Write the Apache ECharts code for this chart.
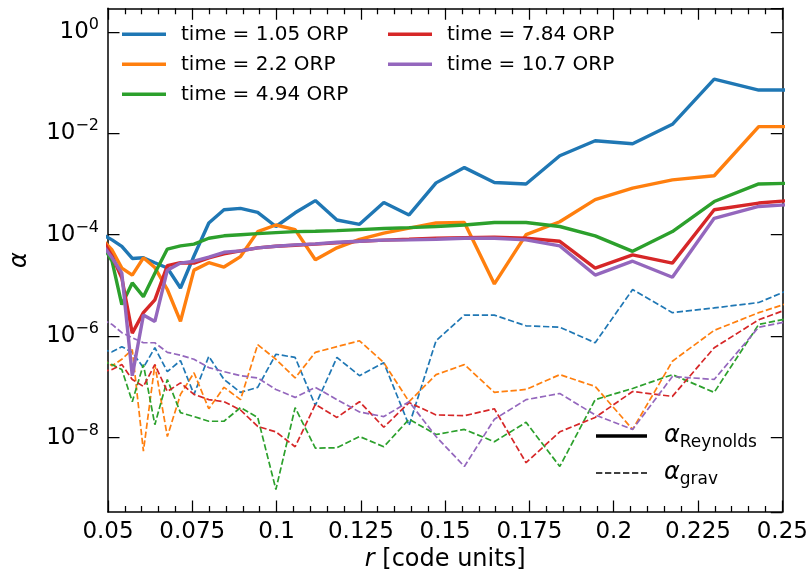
<!DOCTYPE html>
<html><head><meta charset="utf-8">
<script src="https://cdn.jsdelivr.net/npm/echarts@6/dist/echarts.min.js"></script>
<style>html,body{margin:0;padding:0;background:#fff}#c{width:811px;height:577px}</style>
</head><body><div id="c"></div>
<script>
// radius sample points (code units)
const radius = [0.0484, 0.0512, 0.0541, 0.0572, 0.0605, 0.0639, 0.0676, 0.0715, 0.0755, 0.0799, 0.0844, 0.0893, 0.0944, 0.0998, 0.1055, 0.1115, 0.1179, 0.1246, 0.1318, 0.1393, 0.1473, 0.1557, 0.1646, 0.1740, 0.1840, 0.1945, 0.2056, 0.2174, 0.2298, 0.2430, 0.2569];
const timeLabels = ['time = 1.05 ORP', 'time = 2.2 ORP', 'time = 4.94 ORP', 'time = 7.84 ORP', 'time = 10.7 ORP'];
const xTicks = [0.05, 0.075, 0.1, 0.125, 0.15, 0.175, 0.2, 0.225, 0.25];

// alpha_Reynolds (solid)
const reynolds_t105 = [1.0e-4, 7.9e-5, 5.9e-5, 3.4e-5, 3.5e-5, 2.8e-5, 2.2e-5, 8.9e-6, 3.8e-5, 1.7e-4, 3.1e-4, 3.3e-4, 2.75e-4, 1.45e-4, 2.7e-4, 4.7e-4, 1.95e-4, 1.6e-4, 4.3e-4, 2.45e-4, 1.05e-3, 2.1e-3, 1.07e-3, 1.0e-3, 3.6e-3, 7.1e-3, 6.2e-3, 1.5e-2, 1.17e-1, 7.1e-2, 7.1e-2];
const reynolds_t22 = [7.9e-5, 5.0e-5, 2.2e-5, 1.6e-5, 3.5e-5, 2.25e-5, 8.3e-6, 1.95e-6, 2.0e-5, 2.8e-5, 2.3e-5, 3.7e-5, 1.15e-4, 1.55e-4, 1.26e-4, 3.2e-5, 5.5e-5, 8.1e-5, 1.07e-4, 1.35e-4, 1.7e-4, 1.74e-4, 1.07e-5, 1.0e-4, 1.8e-4, 4.9e-4, 8.3e-4, 1.2e-3, 1.45e-3, 1.35e-2, 1.35e-2];
const reynolds_t494 = [6.3e-5, 3.0e-5, 4.2e-6, 1.12e-5, 6.0e-6, 1.74e-5, 5.2e-5, 6.0e-5, 6.5e-5, 8.5e-5, 9.5e-5, 1.0e-4, 1.05e-4, 1.1e-4, 1.15e-4, 1.17e-4, 1.2e-4, 1.26e-4, 1.32e-4, 1.38e-4, 1.45e-4, 1.55e-4, 1.74e-4, 1.74e-4, 1.45e-4, 9.5e-5, 4.7e-5, 1.15e-4, 4.5e-4, 1.0e-3, 1.05e-3];
const reynolds_t784 = [7.9e-5, 3.8e-5, 1.4e-5, 1.15e-6, 2.9e-6, 5.2e-6, 2.45e-5, 2.8e-5, 2.75e-5, 3.5e-5, 4.2e-5, 4.8e-5, 5.5e-5, 5.9e-5, 6.2e-5, 6.5e-5, 6.9e-5, 7.4e-5, 7.8e-5, 8.1e-5, 8.5e-5, 8.7e-5, 8.9e-5, 8.5e-5, 7.4e-5, 2.2e-5, 4.0e-5, 2.75e-5, 3.1e-4, 4.2e-4, 5.0e-4];
const reynolds_t107 = [6.3e-5, 3.5e-5, 1.74e-5, 1.66e-7, 2.6e-6, 1.95e-6, 2.0e-5, 2.75e-5, 3.0e-5, 3.6e-5, 4.5e-5, 4.8e-5, 5.5e-5, 5.9e-5, 6.3e-5, 6.6e-5, 7.1e-5, 7.4e-5, 7.8e-5, 7.9e-5, 8.1e-5, 8.5e-5, 8.5e-5, 7.9e-5, 6.0e-5, 1.6e-5, 3.0e-5, 1.45e-5, 2.1e-4, 3.6e-4, 4.1e-4];

// alpha_grav (dashed)
const grav_t105 = [5.4e-7, 4.9e-7, 6.2e-7, 4.8e-7, 2.4e-7, 5.9e-7, 2.0e-7, 3.3e-7, 7.1e-8, 4.0e-7, 1.4e-7, 7.8e-8, 9.8e-8, 4.4e-7, 3.8e-7, 4.3e-8, 3.8e-7, 1.66e-7, 3.0e-7, 1.74e-8, 8.1e-7, 2.6e-6, 2.6e-6, 1.6e-6, 1.5e-6, 7.4e-7, 8.3e-6, 2.9e-6, 3.6e-6, 4.6e-6, 1.12e-5];
const grav_t22 = [3.5e-7, 2.6e-7, 3.5e-7, 5.4e-7, 5.4e-9, 2.75e-7, 1.05e-8, 7.1e-8, 1.9e-7, 3.7e-8, 9.8e-8, 5.6e-8, 6.8e-7, 3.5e-7, 1.5e-7, 4.8e-7, 6.2e-7, 8.1e-7, 3.0e-7, 5.1e-8, 1.74e-7, 2.75e-7, 7.8e-8, 8.9e-8, 1.74e-7, 1.02e-7, 1.45e-8, 3.2e-7, 1.3e-6, 2.9e-6, 5.8e-6];
const grav_t494 = [3.2e-7, 2.75e-7, 2.2e-7, 5.1e-8, 2.75e-7, 1.8e-8, 1.4e-7, 3.1e-8, 2.6e-8, 2.1e-8, 2.1e-8, 3.9e-8, 2.5e-8, 9.5e-10, 3.9e-8, 6.2e-9, 6.3e-9, 1.05e-8, 6.6e-9, 2.3e-8, 1.15e-8, 1.45e-8, 8.3e-9, 2.0e-8, 2.7e-9, 5.6e-8, 9.3e-8, 1.74e-7, 7.8e-8, 1.7e-6, 2.6e-6];
const grav_t784 = [2.0e-7, 2.2e-7, 2.75e-7, 1.4e-7, 1.02e-7, 2.75e-7, 8.1e-8, 1.2e-7, 7.1e-8, 5.6e-8, 5.1e-8, 3.5e-8, 1.66e-8, 1.3e-8, 6.6e-9, 4.5e-8, 2.5e-8, 5.1e-8, 1.6e-8, 4.9e-8, 2.8e-8, 2.7e-8, 3.7e-8, 3.2e-9, 1.3e-8, 2.5e-8, 8.1e-8, 6.5e-8, 5.9e-7, 2.1e-6, 4.6e-6];
const grav_t107 = [2.1e-6, 1.7e-6, 1.17e-6, 9.3e-7, 7.4e-7, 7.4e-7, 4.8e-7, 4.2e-7, 3.5e-7, 2.4e-7, 2.0e-7, 1.66e-7, 1.5e-7, 8.9e-8, 6.2e-8, 9.8e-8, 5.6e-8, 3.2e-8, 2.6e-8, 5.1e-8, 1.05e-8, 2.7e-9, 2.3e-8, 5.6e-8, 7.4e-8, 2.8e-8, 1.45e-8, 1.6e-7, 1.4e-7, 1.5e-6, 2.3e-6];

const reynolds = [reynolds_t105, reynolds_t22, reynolds_t494, reynolds_t784, reynolds_t107];
const grav = [grav_t105, grav_t22, grav_t494, grav_t784, grav_t107];
const colors = ['#1f77b4', '#ff7f0e', '#2ca02c', '#d62728', '#9467bd'];
const FONT = 'DejaVu Sans';
const SOLID_W = 3.4;
const DASH_W = 1.7;
const DASH = [6.3, 2.7];

function pairs(xs, ys) { return xs.map((x, i) => [x, ys[i]]); }

const series = [];
reynolds.forEach((ys, k) => {
  series.push({
    name: timeLabels[k], type: 'line', data: pairs(radius, ys), symbol: 'none', showSymbol: false,
    lineStyle: { color: colors[k], width: SOLID_W }, itemStyle: { color: colors[k] }, z: 3, animation: false
  });
});
grav.forEach((ys, k) => {
  series.push({
    name: timeLabels[k] + ' grav', type: 'line', data: pairs(radius, ys), symbol: 'none', showSymbol: false,
    lineStyle: { color: colors[k], width: DASH_W, type: DASH }, itemStyle: { color: colors[k] }, z: 2, animation: false
  });
});
series.push({ name: 'aRe', type: 'line', data: [], symbol: 'none', lineStyle: { color: '#000', width: SOLID_W }, itemStyle: { color: '#000' } });
series.push({ name: 'aGr', type: 'line', data: [], symbol: 'none', lineStyle: { color: '#000', width: DASH_W, type: DASH }, itemStyle: { color: '#000' } });

// dashed legend handle
function dashPath(w, h, on, off) {
  let p = 'path://';
  for (let x = 0; x < w; x += on + off) {
    const len = Math.min(on, w - x);
    p += 'M' + x.toFixed(2) + ',0h' + len.toFixed(2) + 'v' + h + 'h-' + len.toFixed(2) + 'z';
  }
  return p;
}

const legendText = { fontSize: 20, fontFamily: FONT, color: '#000', padding: [0, 0, 0, 10], lineHeight: 20 };
const legendItemStyle = { borderWidth: 0 };

const tickStyle = { color: '#000', width: 1.25 };
const lineStyleAx = { color: '#000', width: 1.5 };

function yFmt(v) {
  const e = Math.round(Math.log10(v));
  return '{b|10}{e|' + (e < 0 ? '\u2212' + (-e) : String(e)) + '}';
}

const yCommon = {
  type: 'log', logBase: 100, min: 3.4e-10, max: 2.9,
  splitLine: { show: false },
  axisLine: { show: true, lineStyle: lineStyleAx },
  axisTick: { show: true, inside: true, length: 11.5, lineStyle: tickStyle },
};

const chart = echarts.init(document.getElementById('c'), null, { renderer: 'canvas' });
chart.setOption({
  animation: false,
  backgroundColor: '#fff',
  grid: { left: 104.6, right: 28.7, top: 8.3, bottom: 64.3, containLabel: false },
  xAxis: [
    {
      type: 'value', position: 'bottom', min: xTicks[0], max: xTicks[xTicks.length - 1], interval: 0.025,
      splitLine: { show: false },
      axisLine: { show: true, onZero: false, lineStyle: lineStyleAx },
      axisTick: { show: true, inside: true, length: 11.5, lineStyle: tickStyle },
      minorTick: { show: true, splitNumber: 5, length: 6, lineStyle: tickStyle },
      axisLabel: { fontSize: 23, fontFamily: FONT, color: '#000', margin: 8, showMinLabel: true, showMaxLabel: true },
      name: '{i|r} [code units]', nameLocation: 'middle', nameGap: 33,
      nameTextStyle: { fontSize: 24, fontFamily: FONT, color: '#000', rich: { i: { fontSize: 24, fontFamily: FONT, fontStyle: 'italic', color: '#000' } } }
    },
    {
      type: 'value', position: 'top', min: xTicks[0], max: xTicks[xTicks.length - 1], interval: 0.025,
      splitLine: { show: false },
      axisLine: { show: true, onZero: false, lineStyle: lineStyleAx },
      axisTick: { show: true, inside: true, length: 11.5, lineStyle: tickStyle },
      minorTick: { show: true, splitNumber: 5, length: 6, lineStyle: tickStyle },
      axisLabel: { show: false }
    }
  ],
  yAxis: [
    Object.assign({}, yCommon, {
      position: 'left',
      axisLabel: {
        formatter: yFmt, showMinLabel: false, showMaxLabel: false, margin: 9, color: '#000',
        rich: {
          b: { fontSize: 23, fontFamily: FONT, color: '#000', lineHeight: 30 },
          e: { fontSize: 16, fontFamily: FONT, color: '#000', verticalAlign: 'top', lineHeight: 18 }
        }
      },
      name: 'α', nameLocation: 'middle', nameGap: 76, nameRotate: 90,
      nameTextStyle: { fontSize: 24, fontFamily: FONT, fontStyle: 'italic', color: '#000' }
    }),
    Object.assign({}, yCommon, { position: 'right', axisLabel: { show: false } })
  ],
  legend: [
    { data: timeLabels.slice(0, 3), icon: 'rect', orient: 'vertical', left: 122, top: 24.3, padding: 0, itemWidth: 44, itemHeight: SOLID_W, itemGap: 10, textStyle: legendText, itemStyle: legendItemStyle, selectedMode: false },
    { data: timeLabels.slice(3), icon: 'rect', orient: 'vertical', left: 388, top: 24.3, padding: 0, itemWidth: 44, itemHeight: SOLID_W, itemGap: 10, textStyle: legendText, itemStyle: legendItemStyle, selectedMode: false },
    {
      data: [{ name: 'aRe', icon: 'rect' }, { name: 'aGr', icon: dashPath(51, DASH_W, DASH[0], DASH[1]) }],
      orient: 'vertical', left: 596, top: 424, padding: 0, itemWidth: 51, itemHeight: SOLID_W, itemGap: 10, selectedMode: false,
      itemStyle: legendItemStyle,
      formatter: n => n === 'aRe' ? '{a|α}{s|Reynolds}' : '{a|α}{s|grav}',
      textStyle: {
        padding: [0, 0, 0, 12], color: '#000',
        rich: {
          a: { fontSize: 24, fontFamily: FONT, fontStyle: 'italic', color: '#000', lineHeight: 30 },
          s: { fontSize: 17, fontFamily: FONT, color: '#000', verticalAlign: 'bottom', lineHeight: 22 }
        }
      }
    }
  ],
  series: series
});
</script>
</body></html>
